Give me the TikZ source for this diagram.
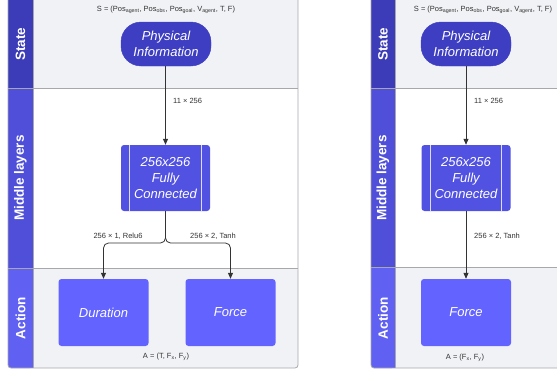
\documentclass[tikz,border=0pt]{standalone}
\usepackage{fontspec}
\setmainfont{Liberation Sans}
\setsansfont{Liberation Sans}
\usetikzlibrary{arrows.meta}
\definecolor{bandgray}{HTML}{F1F2F5}
\definecolor{linegray}{HTML}{A8A8AC}
\definecolor{colstate}{HTML}{3C3CB8}
\definecolor{colmid}{HTML}{4F4FDA}
\definecolor{colact}{HTML}{6060F2}
\definecolor{nodestate}{HTML}{3E3EC2}
\definecolor{nodemid}{HTML}{5151E2}
\definecolor{nodeact}{HTML}{6363FF}
\definecolor{arrowgray}{HTML}{333333}
\tikzset{
  lanelabel/.style={rotate=90,text=white,font=\bfseries\fontsize{13.5}{15}\selectfont},
  pill/.style={fill=nodestate,draw=nodestate,rounded corners=20pt,minimum width=90pt,minimum height=44pt,text=white,align=center,font=\itshape\fontsize{13}{16}\selectfont},
  fcbox/.style={fill=nodemid,rounded corners=3pt,minimum width=89pt,minimum height=66pt,text=white,align=center,font=\itshape\fontsize{13}{16}\selectfont},
  actbox/.style={fill=nodeact,rounded corners=3pt,minimum width=90pt,minimum height=67pt,text=white,align=center,font=\itshape\fontsize{13}{16}\selectfont},
  arr/.style={draw=arrowgray,line width=0.8pt,-{Triangle[length=6pt,width=5pt]}},
  small/.style={font=\fontsize{7.5}{8.5}\selectfont,text=black!80,inner sep=1pt},
}
\begin{document}
\begin{tikzpicture}[x=1pt,y=-1pt]
\useasboundingbox (0,0) rectangle (557,372);
\clip (0,0) rectangle (557,372);
% ---------- left diagram frame ----------
\fill[bandgray] (8,-6) rectangle (298,88);
\fill[white] (8,88) rectangle (298,268);
\fill[bandgray,rounded corners=3pt] (8,268) rectangle (298,368);
\fill[colstate] (8,-6) rectangle (33,88);
\fill[colmid] (8,88) rectangle (33,268);
\fill[colact,rounded corners=3pt] (8,268) -- (33,268) -- (33,368) -- (8,368) -- cycle;
\fill[colact] (8,268) rectangle (33,300);
\fill[colact] (20,268) rectangle (33,368);
\draw[linegray,line width=0.8pt] (8,88) -- (298,88);
\draw[linegray,line width=0.8pt] (8,268) -- (298,268);
\draw[linegray,line width=0.8pt] (33,-6) -- (33,368);
\draw[linegray,line width=0.8pt,rounded corners=3pt] (8,-6) rectangle (298,368);
\node[lanelabel] (lstate) at (20.5,44) {State};
\node[lanelabel] (lmid) at (20.5,178) {Middle layers};
\node[lanelabel] (lact) at (20.5,318) {Action};
% ---------- left nodes ----------
\node[pill] (pi) at (166,44) {Physical\\Information};
\node[fcbox] (fc) at (165.5,178) {256x256\\Fully\\Connected};
\draw[white!80!nodemid,line width=0.8pt] ([xshift=9pt]fc.north west) -- ([xshift=9pt]fc.south west);
\draw[white!80!nodemid,line width=0.8pt] ([xshift=-9pt]fc.north east) -- ([xshift=-9pt]fc.south east);
\node[actbox] (dur) at (103.5,312.5) {Duration};
\node[actbox] (frc) at (230.5,312.5) {Force};
\coordinate (split) at (165.5,243);
\draw[arr] (pi.south -| fc.north) -- (fc.north);
\draw[arr,rounded corners=5pt] (fc.south) -- (split) -| (dur.north);
\draw[arr,rounded corners=5pt] (fc.south) -- (split) -| (frc.north);
\node[small,anchor=west] (l11) at (172,101) {11 × 256};
\node[small] (lrelu) at (118,236) {256 × 1, Relu6};
\node[small] (ltanh) at (213,236) {256 × 2, Tanh};
\node[small] (stext) at (166,10) {S = (Pos\textsubscript{agent}, Pos\textsubscript{obs}, Pos\textsubscript{goal}, V\textsubscript{agent}, T, F)};
\node[small] (atext) at (166,357) {A = (T, F\textsubscript{x}, F\textsubscript{y})};
% ---------- right diagram frame ----------
\fill[bandgray] (371,-6) rectangle (565,88);
\fill[white] (371,88) rectangle (565,267);
\fill[bandgray,rounded corners=3pt] (371,267) rectangle (565,368);
\fill[colstate] (371,-6) rectangle (395,88);
\fill[colmid] (371,88) rectangle (395,267);
\fill[colact,rounded corners=3pt] (371,267) -- (395,267) -- (395,368) -- (371,368) -- cycle;
\fill[colact] (371,267) rectangle (395,300);
\fill[colact] (383,267) rectangle (395,368);
\draw[linegray,line width=0.8pt] (371,88) -- (565,88);
\draw[linegray,line width=0.8pt] (371,267) -- (565,267);
\draw[linegray,line width=0.8pt] (395,-6) -- (395,368);
\draw[linegray,line width=0.8pt,rounded corners=3pt] (371,-6) rectangle (565,368);
\node[lanelabel] (rstate) at (383,44) {State};
\node[lanelabel] (rmid) at (383,178) {Middle layers};
\node[lanelabel] (ract) at (383,318) {Action};
% ---------- right nodes ----------
\node[pill] (pi2) at (466,44) {Physical\\Information};
\node[fcbox] (fc2) at (466,178) {256x256\\Fully\\Connected};
\draw[white!80!nodemid,line width=0.8pt] ([xshift=9pt]fc2.north west) -- ([xshift=9pt]fc2.south west);
\draw[white!80!nodemid,line width=0.8pt] ([xshift=-9pt]fc2.north east) -- ([xshift=-9pt]fc2.south east);
\node[actbox] (frc2) at (466,312.5) {Force};
\draw[arr] (pi2.south) -- (fc2.north);
\draw[arr] (fc2.south) -- (frc2.north);
\node[small,anchor=west] (r11) at (473,101) {11 × 256};
\node[small,anchor=west] (rtanh) at (473,236) {256 × 2, Tanh};
\node[small] (stext2) at (483,10) {S = (Pos\textsubscript{agent}, Pos\textsubscript{obs}, Pos\textsubscript{goal}, V\textsubscript{agent}, T, F)};
\node[small] (atext2) at (465,358) {A = (F\textsubscript{x}, F\textsubscript{y})};
\end{tikzpicture}
\end{document}
